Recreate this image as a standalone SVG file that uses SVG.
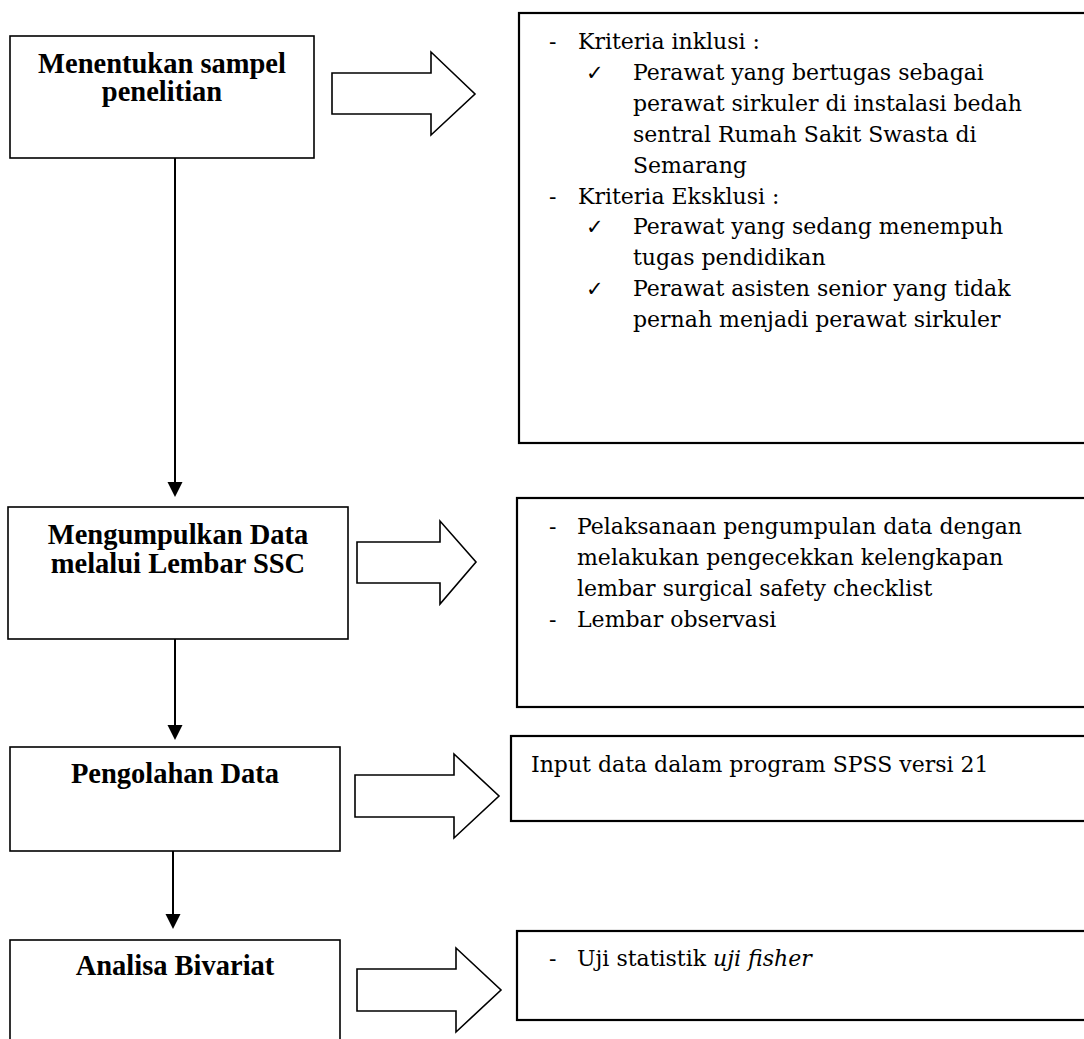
<svg xmlns="http://www.w3.org/2000/svg" width="1084" height="1039" viewBox="0 0 1084 1039">
<defs>
<style>
.box{fill:#fff;stroke:#000;stroke-width:1.6}
.rbox{fill:#fff;stroke:#000;stroke-width:2.2}
.barrow{fill:#fff;stroke:#000;stroke-width:1.6;stroke-linejoin:miter}
.title{font-family:"Liberation Serif","DejaVu Serif",serif;font-weight:bold;font-size:28.5px;fill:#000;text-anchor:middle}
.body{font-family:"DejaVu Serif","Liberation Serif",serif;font-size:22px;fill:#000}
.chk{font-family:"DejaVu Sans",sans-serif;font-size:21px;fill:#000}
.conn{stroke:#000;stroke-width:2;fill:none}
</style>
<marker id="ah" markerUnits="userSpaceOnUse" markerWidth="16" markerHeight="16" refX="7" refY="7.5" orient="auto">
<path d="M0,0 L15,7.5 L0,15 z" fill="#000"/>
</marker>
</defs>
<rect width="1084" height="1039" fill="#fff"/>

<g id="connectors">
<line class="conn" x1="175" y1="158" x2="175" y2="489" marker-end="url(#ah)"/>
<line class="conn" x1="175" y1="639" x2="175" y2="732" marker-end="url(#ah)"/>
<line class="conn" x1="173" y1="851" x2="173" y2="921" marker-end="url(#ah)"/>
<polygon class="barrow" points="332,73 431,73 431,52 475,94 431,135 431,114 332,114"/>
<polygon class="barrow" points="357,542 440,542 440,521 476,562 440,604 440,583 357,583"/>
<polygon class="barrow" points="355,775 454,775 454,754 499,796 454,838 454,817 355,817"/>
<polygon class="barrow" points="357,969 456,969 456,948 501,990 456,1032 456,1011 357,1011"/>
</g>

<g id="node-sampel">
<rect class="box" x="10" y="36" width="304" height="122"/>
<text class="title" x="162" y="73">Menentukan sampel</text>
<text class="title" x="162" y="101">penelitian</text>
</g>

<g id="node-kriteria">
<rect class="rbox" x="519" y="13" width="580" height="430"/>
<text class="body" x="549" y="49">-</text>
<text class="body" x="578" y="49">Kriteria inklusi :</text>
<text class="chk" x="586" y="80">✓</text>
<text class="body" x="633" y="80">Perawat yang bertugas sebagai</text>
<text class="body" x="633" y="111">perawat sirkuler di instalasi bedah</text>
<text class="body" x="633" y="142">sentral Rumah Sakit Swasta di</text>
<text class="body" x="633" y="173">Semarang</text>
<text class="body" x="549" y="204">-</text>
<text class="body" x="578" y="204">Kriteria Eksklusi :</text>
<text class="chk" x="586" y="234">✓</text>
<text class="body" x="633" y="234">Perawat yang sedang menempuh</text>
<text class="body" x="633" y="265">tugas pendidikan</text>
<text class="chk" x="586" y="296">✓</text>
<text class="body" x="633" y="296">Perawat asisten senior yang tidak</text>
<text class="body" x="633" y="327">pernah menjadi perawat sirkuler</text>
</g>

<g id="node-mengumpulkan">
<rect class="box" x="8" y="507" width="340" height="132"/>
<text class="title" x="178" y="544">Mengumpulkan Data</text>
<text class="title" x="178" y="573">melalui Lembar SSC</text>
</g>

<g id="node-pelaksanaan">
<rect class="rbox" x="517" y="498" width="582" height="209"/>
<text class="body" x="549" y="534">-</text>
<text class="body" x="577" y="534">Pelaksanaan pengumpulan data dengan</text>
<text class="body" x="577" y="565">melakukan pengecekkan kelengkapan</text>
<text class="body" x="577" y="596">lembar surgical safety checklist</text>
<text class="body" x="549" y="627">-</text>
<text class="body" x="577" y="627">Lembar observasi</text>
</g>

<g id="node-pengolahan">
<rect class="box" x="10" y="747" width="330" height="104"/>
<text class="title" x="175" y="783">Pengolahan Data</text>
</g>

<g id="node-input">
<rect class="rbox" x="511" y="736" width="588" height="85"/>
<text class="body" x="531" y="772">Input data dalam program SPSS versi 21</text>
</g>

<g id="node-analisa">
<rect class="box" x="10" y="940" width="330" height="110"/>
<text class="title" x="175" y="975">Analisa Bivariat</text>
</g>

<g id="node-uji">
<rect class="rbox" x="517" y="931" width="582" height="89"/>
<text class="body" x="549" y="966">-</text>
<text class="body" x="577" y="966">Uji statistik <tspan font-style="italic">uji fisher</tspan></text>
</g>
</svg>
